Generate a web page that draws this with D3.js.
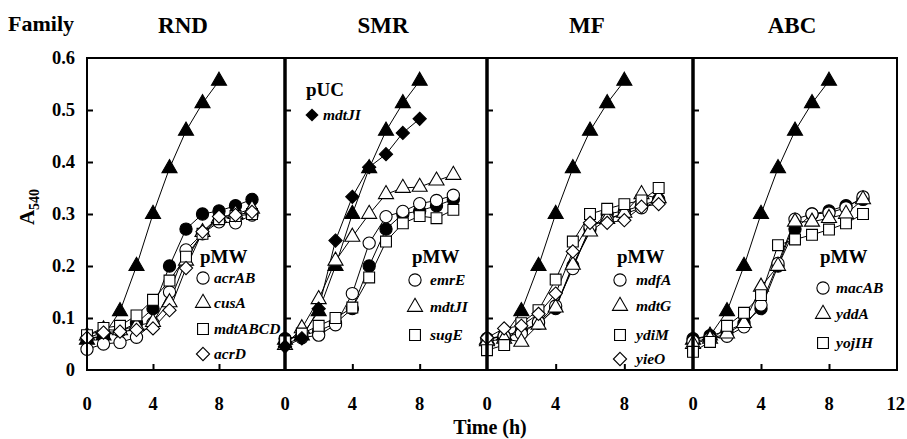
<!DOCTYPE html>
<html><head><meta charset="utf-8">
<script src="https://cdn.jsdelivr.net/npm/d3@7"></script>
<style>
body{margin:0;background:#fff}
svg{display:block}
text{font-family:"Liberation Serif","Times New Roman",Times,serif;font-weight:bold;fill:#000}
</style>
</head><body><svg id="c" width="907" height="439"></svg>
<script>
// ---------- data ----------
const families = ["RND", "SMR", "MF", "ABC"];
const hours = [0, 1, 2, 3, 4, 5, 6, 7, 8, 9, 10];
const controlHours = [0, 1, 2, 3, 4, 5, 6, 7, 8];
const xTickValues = [0, 4, 8];
const xTickLabels = ["0", "4", "8"];
const yTickValues = [0, 0.1, 0.2, 0.3, 0.4, 0.5, 0.6];
const yTickLabels = ["0", "0.1", "0.2", "0.3", "0.4", "0.5", "0.6"];

const controlTriangle = [0.058, 0.066, 0.113, 0.200, 0.300, 0.388, 0.460, 0.513, 0.556];
const controlCircle   = [0.060, 0.066, 0.075, 0.090, 0.118, 0.200, 0.271, 0.300, 0.306, 0.316, 0.328];

const rndLabels   = ["acrAB", "cusA", "mdtABCD", "acrD"];
const rndAcrAB    = [0.040, 0.050, 0.053, 0.063, 0.090, 0.150, 0.231, 0.262, 0.285, 0.283, 0.298];
const rndCusA     = [0.066, 0.078, 0.076, 0.085, 0.092, 0.130, 0.210, 0.265, 0.292, 0.300, 0.310];
const rndMdtABCD  = [0.067, 0.081, 0.085, 0.105, 0.135, 0.172, 0.218, 0.262, 0.290, 0.296, 0.300];
const rndAcrD     = [0.062, 0.072, 0.074, 0.077, 0.080, 0.115, 0.196, 0.266, 0.295, 0.298, 0.304];

const smrPucLabel = "mdtJI";
const smrPucMdtJI = [0.045, 0.061, 0.118, 0.249, 0.333, 0.390, 0.415, 0.456, 0.483];
const smrLabels   = ["emrE", "mdtJI", "sugE"];
const smrEmrE     = [0.050, 0.062, 0.067, 0.087, 0.147, 0.244, 0.295, 0.305, 0.320, 0.326, 0.336];
const smrMdtJI    = [0.048, 0.080, 0.136, 0.210, 0.256, 0.300, 0.338, 0.350, 0.352, 0.364, 0.375];
const smrSugE     = [0.055, 0.070, 0.085, 0.100, 0.120, 0.178, 0.247, 0.282, 0.296, 0.292, 0.308];

const mfLabels    = ["mdfA", "mdtG", "ydiM", "yieO"];
const mfMdfA      = [0.060, 0.065, 0.070, 0.092, 0.123, 0.195, 0.275, 0.290, 0.300, 0.312, 0.325];
const mfMdtG      = [0.055, 0.060, 0.054, 0.087, 0.120, 0.202, 0.266, 0.290, 0.302, 0.338, 0.330];
const mfYdiM      = [0.038, 0.048, 0.090, 0.115, 0.174, 0.247, 0.300, 0.310, 0.319, 0.326, 0.350];
const mfYieO      = [0.062, 0.080, 0.085, 0.108, 0.147, 0.228, 0.283, 0.283, 0.288, 0.314, 0.319];

const abcLabels   = ["macAB", "yddA", "yojIH"];
const abcMacAB    = [0.055, 0.060, 0.065, 0.083, 0.125, 0.205, 0.290, 0.300, 0.302, 0.312, 0.333];
const abcYddA     = [0.050, 0.060, 0.070, 0.090, 0.160, 0.200, 0.285, 0.285, 0.292, 0.300, 0.328];
const abcYojIH    = [0.035, 0.054, 0.085, 0.110, 0.144, 0.240, 0.251, 0.260, 0.270, 0.282, 0.300];

// ---------- layout ----------
const panelEdges = [[87, 285], [285, 487], [487, 693], [693, 897]];
const plotTop = 58, plotBottom = 370;
const svg = d3.select("#c");
const y = d3.scaleLinear().domain([0, 0.6]).range([plotBottom, plotTop]);

const diamondPath = "M0,-6.6L6.6,0L0,6.6L-6.6,0Z";
const shapes = {
  circle: d3.symbol(d3.symbolCircle, 118)(),
  triangle: d3.symbol(d3.symbolTriangle, 98)(),
  square: d3.symbol(d3.symbolSquare, 118)(),
  diamond: diamondPath
};

const panels = [
  { series: [
      {h: hours, v: rndAcrAB, s: "circle", f: false},
      {h: hours, v: rndCusA, s: "triangle", f: false},
      {h: hours, v: rndMdtABCD, s: "square", f: false},
      {h: hours, v: rndAcrD, s: "diamond", f: false}],
    labels: rndLabels, legendShapes: ["circle", "triangle", "square", "diamond"],
    legend: {x: 203, lx: 214, hy: 263, ys: [278, 303, 329, 354]} },
  { series: [
      {h: hours, v: smrEmrE, s: "circle", f: false},
      {h: hours, v: smrMdtJI, s: "triangle", f: false},
      {h: hours, v: smrSugE, s: "square", f: false},
      {h: controlHours, v: smrPucMdtJI, s: "diamond", f: true}],
    labels: smrLabels, legendShapes: ["circle", "triangle", "square"],
    legend: {x: 415, lx: 430, hy: 263, ys: [280, 307, 335]} },
  { series: [
      {h: hours, v: mfMdfA, s: "circle", f: false},
      {h: hours, v: mfMdtG, s: "triangle", f: false},
      {h: hours, v: mfYdiM, s: "square", f: false},
      {h: hours, v: mfYieO, s: "diamond", f: false}],
    labels: mfLabels, legendShapes: ["circle", "triangle", "square", "diamond"],
    legend: {x: 620, lx: 636, hy: 263, ys: [280, 306, 335, 359]} },
  { series: [
      {h: hours, v: abcMacAB, s: "circle", f: false},
      {h: hours, v: abcYddA, s: "triangle", f: false},
      {h: hours, v: abcYojIH, s: "square", f: false}],
    labels: abcLabels, legendShapes: ["circle", "triangle", "square"],
    legend: {x: 823, lx: 836, hy: 263, ys: [288, 314, 343]} }
];

panels.forEach((p, i) => {
  const [x0, x1] = panelEdges[i];
  const x = d3.scaleLinear().domain([0, 12]).range([x0, x1]);
  const g = svg.append("g");

  // y ticks (inward)
  const yAxis = d3.axisRight(y).tickValues(yTickValues.slice(1, 6)).tickSize(6).tickFormat("");
  const ya = g.append("g").attr("transform", `translate(${x0},0)`).call(yAxis);
  ya.select(".domain").remove();
  ya.selectAll("line").attr("stroke", "#000").attr("stroke-width", 2);

  // x ticks (inward)
  const xAxis = d3.axisTop(x).tickValues(xTickValues.slice(1)).tickSize(6).tickFormat("");
  const xa = g.append("g").attr("transform", `translate(0,${plotBottom})`).call(xAxis);
  xa.select(".domain").remove();
  xa.selectAll("line").attr("stroke", "#000").attr("stroke-width", 2);

  // x tick labels
  g.selectAll("text.xl").data(xTickValues).enter().append("text")
    .attr("x", d => x(d)).attr("y", 410).attr("text-anchor", "middle")
    .style("font-size", "18.5px").text((d, k) => xTickLabels[k]);

  const line = d3.line().x(d => x(d[0])).y(d => y(d[1]));
  const all = [
    {h: controlHours, v: controlTriangle, s: "triangle", f: true},
    {h: hours, v: controlCircle, s: "circle", f: true}
  ].concat(p.series);

  all.forEach(sr => {
    const pts = sr.h.map((t, k) => [t, sr.v[k]]);
    g.append("path").attr("d", line(pts)).attr("fill", "none")
      .attr("stroke", "#000").attr("stroke-width", 1);
  });
  all.forEach(sr => {
    const pts = sr.h.map((t, k) => [t, sr.v[k]]);
    g.selectAll(null).data(pts).enter().append("path")
      .attr("d", shapes[sr.s])
      .attr("transform", d => `translate(${x(d[0])},${y(d[1])})`)
      .attr("fill", sr.f ? "#000" : "#fff")
      .attr("stroke", "#000").attr("stroke-width", 1.1);
  });

  // legend
  const L = p.legend;
  g.append("text").attr("x", L.x - 3).attr("y", L.hy).style("font-size", "19px").text("pMW");
  p.labels.forEach((lab, k) => {
    g.append("path").attr("d", shapes[p.legendShapes[k]])
      .attr("transform", `translate(${L.x},${L.ys[k]})`)
      .attr("fill", "#fff").attr("stroke", "#000").attr("stroke-width", 1.1);
    g.append("text").attr("x", L.lx).attr("y", L.ys[k] + 5)
      .style("font-size", "15.5px").style("font-style", "italic").text(lab);
  });

  // family title
  svg.append("text").attr("x", (x0 + x1) / 2 - 3).attr("y", 33).attr("text-anchor", "middle")
    .style("font-size", "23px").text(families[i]);

  // frame
  g.append("rect").attr("x", x0).attr("y", plotTop).attr("width", x1 - x0).attr("height", plotBottom - plotTop)
    .attr("fill", "none").attr("stroke", "#000").attr("stroke-width", 2);
});

// pUC legend in SMR panel
svg.append("text").attr("x", 306).attr("y", 96).style("font-size", "19px").text("pUC");
svg.append("path").attr("d", shapes.diamond).attr("transform", "translate(312,115)").attr("fill", "#000");
svg.append("text").attr("x", 323).attr("y", 120).style("font-size", "15.5px").style("font-style", "italic").text(smrPucLabel);

// panel dividers (thicker)
[285, 487, 693].forEach(dx => {
  svg.append("line").attr("x1", dx).attr("x2", dx).attr("y1", plotTop - 1).attr("y2", plotBottom + 1)
    .attr("stroke", "#000").attr("stroke-width", 3.5);
});

// y tick labels
svg.selectAll("text.yl").data(yTickValues).enter().append("text")
  .attr("x", 75).attr("y", d => y(d) + 6).attr("text-anchor", "end")
  .style("font-size", "18.5px").text((d, k) => yTickLabels[k]);

// last x label
svg.append("text").attr("x", 905).attr("y", 410).attr("text-anchor", "end")
  .style("font-size", "18.5px").text("12");

// titles
svg.append("text").attr("x", 8).attr("y", 31).style("font-size", "22px").text("Family");
svg.append("text").attr("x", 490).attr("y", 434).attr("text-anchor", "middle")
  .style("font-size", "20px").text("Time (h)");
const yt = svg.append("text").attr("transform", "translate(34,207) rotate(-90)")
  .attr("text-anchor", "middle").style("font-size", "21px");
yt.append("tspan").text("A");
yt.append("tspan").attr("dy", 5).style("font-size", "14px").text("540");
</script>
</body></html>
